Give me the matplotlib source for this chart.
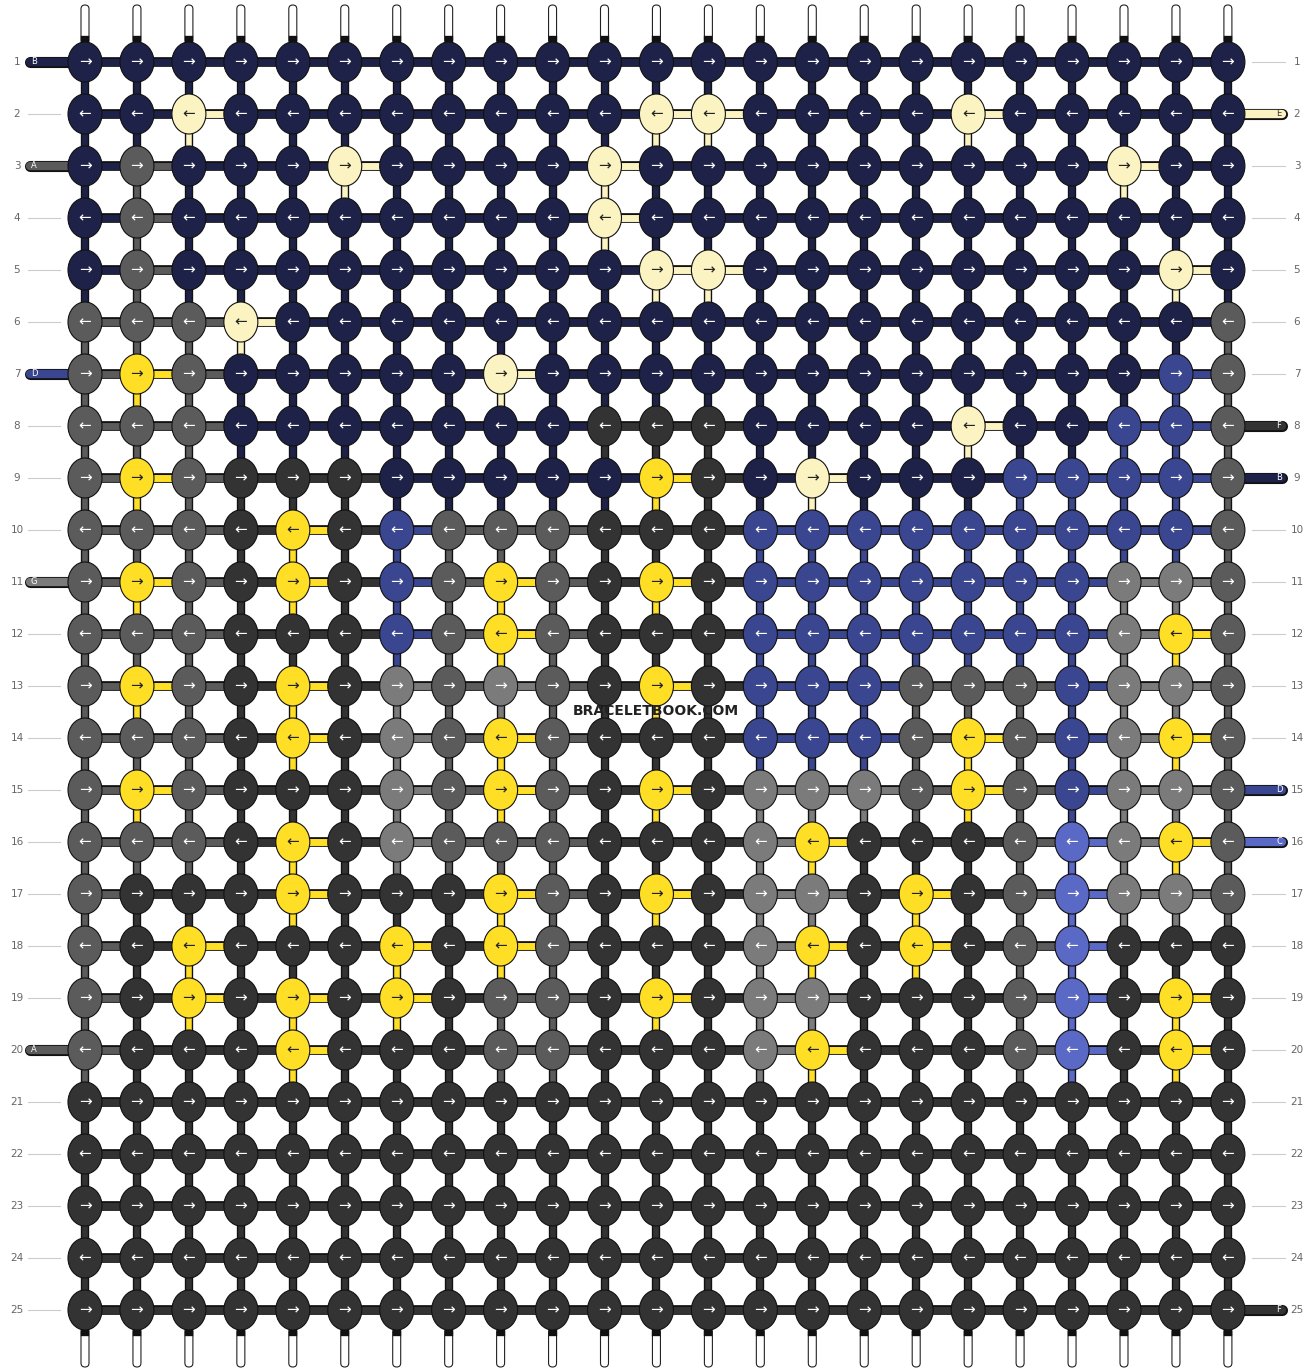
import matplotlib
matplotlib.use("Agg")
import matplotlib.pyplot as plt
from matplotlib.patches import Ellipse, FancyBboxPatch

colors = {"B": "#1e2248", "E": "#fbf3c2", "A": "#5b5b5b", "D": "#3a4690",
          "F": "#333333", "G": "#7b7b7b", "C": "#5b69c6", "Y": "#ffdf26"}

rows = [
    "BBBBBBBBBBBBBBBBBBBBBBB",
    "BBEBBBBBBBBEEBBBBEBBBBB",
    "BABBBEBBBBEBBBBBBBBBEBB",
    "BABBBBBBBBEBBBBBBBBBBBB",
    "BABBBBBBBBBEEBBBBBBBBEB",
    "AAAEBBBBBBBBBBBBBBBBBBA",
    "AYABBBBBEBBBBBBBBBBBBDA",
    "AAABBBBBBBFFFBBBBEBBDDA",
    "AYAFFFBBBBBYFBEBBBDDDDA",
    "AAAFYFDAAAFFFDDDDDDDDDA",
    "AYAFYFDAYAFYFDDDDDDDGGA",
    "AAAFFFDAYAFFFDDDDDDDGYA",
    "AYAFYFGAGAFYFDDDAAADGGA",
    "AAAFYFGAYAFFFDDDAYADGYA",
    "AYAFFFGAYAFYFGGGAYADGGA",
    "AAAFYFGAAAFFFGYFFFACGYA",
    "AFFFYFFFYAFYFGGFYFACGGA",
    "AFYFFFYFYAFFFGYFYFACFFF",
    "AFYFYFYFAAFYFGGFFFACFYF",
    "AFFFYFFFAAFFFGYFFFACFYF",
    "FFFFFFFFFFFFFFFFFFFFFFF",
    "FFFFFFFFFFFFFFFFFFFFFFF",
    "FFFFFFFFFFFFFFFFFFFFFFF",
    "FFFFFFFFFFFFFFFFFFFFFFF",
    "FFFFFFFFFFFFFFFFFFFFFFF",
]
left_labels = {1: "B", 3: "A", 7: "D", 11: "G", 20: "A"}
right_labels = {2: "E", 8: "F", 9: "B", 15: "D", 16: "C", 25: "F"}

W, H = 1312, 1372
fig = plt.figure(figsize=(W / 100, H / 100), dpi=100)
ax = fig.add_axes([0, 0, 1, 1])
ax.set_xlim(0, W)
ax.set_ylim(H, 0)
ax.axis("off")

x0, dx, y0, dy = 85, 51.95, 62, 52
ncol = len(rows[0])
xs = [x0 + i * dx for i in range(ncol)]
ys = [y0 + j * dy for j in range(len(rows))]

for x in xs:
    for (ya, yb) in [(5, 44), (1328, 1367)]:
        ax.add_patch(FancyBboxPatch((x - 4, ya), 8, yb - ya, boxstyle="round,pad=0,rounding_size=4",
                                    fc="white", ec="#222", lw=0.8, zorder=1))

for i, x in enumerate(xs):
    for j in range(len(rows) - 1):
        c = colors[rows[j][i]]
        ax.plot([x, x], [ys[j], ys[j + 1]], color="#111", lw=6, zorder=2, solid_capstyle="butt")
        ax.plot([x, x], [ys[j], ys[j + 1]], color=c, lw=4, zorder=2, solid_capstyle="butt")
    ax.plot([x, x], [40, ys[0]], color="#111", lw=6, zorder=2)
    ax.plot([x, x], [ys[-1], 1332], color="#111", lw=6, zorder=2)

for j, r in enumerate(rows):
    y = ys[j]
    for i in range(ncol - 1):
        c = colors[r[i]]
        ax.plot([xs[i], xs[i + 1]], [y, y], color="#111", lw=7, zorder=3, solid_capstyle="butt")
        ax.plot([xs[i], xs[i + 1]], [y, y], color=c, lw=5, zorder=3, solid_capstyle="butt")

for j in range(len(rows)):
    y = ys[j]
    n = j + 1
    ax.text(17, y, str(n), ha="center", va="center", fontsize=7.5, color="#666")
    ax.text(1297, y, str(n), ha="center", va="center", fontsize=7.5, color="#666")
    if n in left_labels:
        c = colors[left_labels[n]]
        ax.plot([30, xs[0]], [y, y], color="#111", lw=8, zorder=3, solid_capstyle="round")
        ax.plot([30, xs[0]], [y, y], color=c, lw=6, zorder=3, solid_capstyle="round")
        ax.text(34, y, left_labels[n], ha="center", va="center", fontsize=6, color="white", zorder=4)
    else:
        ax.plot([28, 60], [y, y], color="#ccc", lw=0.8, zorder=1)
    if n in right_labels:
        c = colors[right_labels[n]]
        ax.plot([xs[-1], 1282], [y, y], color="#111", lw=8, zorder=3, solid_capstyle="round")
        ax.plot([xs[-1], 1282], [y, y], color=c, lw=6, zorder=3, solid_capstyle="round")
        tc = "#333" if right_labels[n] == "E" else "white"
        ax.text(1279, y, right_labels[n], ha="center", va="center", fontsize=6, color=tc, zorder=4)
    else:
        ax.plot([1252, 1285], [y, y], color="#ccc", lw=0.8, zorder=1)

for j, r in enumerate(rows):
    arrow = "\u2192" if j % 2 == 0 else "\u2190"
    for i, k in enumerate(r):
        c = colors[k]
        ax.add_patch(Ellipse((xs[i], ys[j]), 34, 40, fc=c, ec="#111", lw=0.8, zorder=5))
        tc = "#222" if k in "EY" else "white"
        ax.text(xs[i], ys[j], arrow, ha="center", va="center", fontsize=11, color=tc, zorder=6)

ax.text(656, 711, "BRACELETBOOK.COM", ha="center", va="center", fontsize=10,
        fontweight="bold", color="#222", zorder=7)

fig.savefig("out.png", dpi=100)
